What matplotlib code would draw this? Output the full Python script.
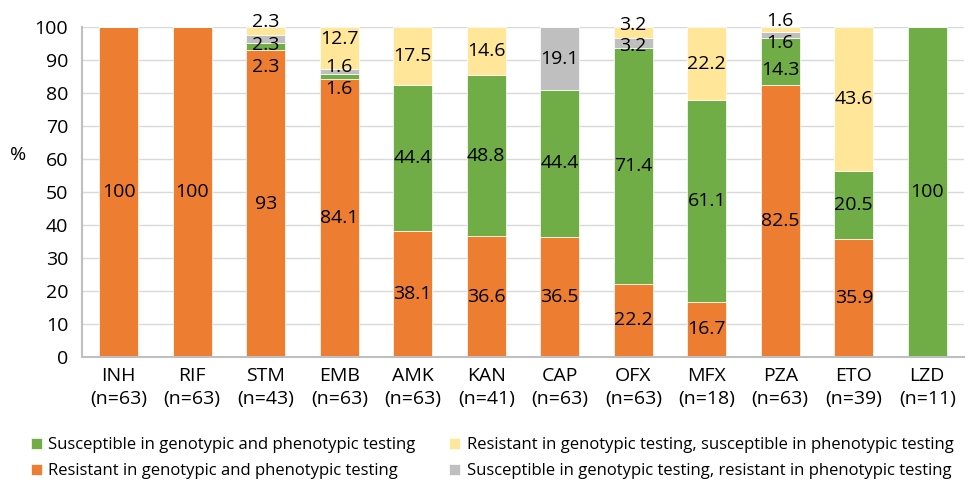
import matplotlib
matplotlib.use("Agg")
import matplotlib.pyplot as plt
import numpy as np

drugs = ["INH", "RIF", "STM", "EMB", "AMK", "KAN", "CAP", "OFX", "MFX", "PZA", "ETO", "LZD"]
n_counts = [63, 63, 43, 63, 63, 41, 63, 63, 18, 63, 39, 11]

res_both = [100, 100, 93, 84.1, 38.1, 36.6, 36.5, 22.2, 16.7, 82.5, 35.9, 0]
sus_both = [0, 0, 2.3, 1.6, 44.4, 48.8, 44.4, 71.4, 61.1, 14.3, 20.5, 100]
sus_geno_res_pheno = [0, 0, 2.3, 1.6, 0, 0, 19.1, 3.2, 0, 1.6, 0, 0]
res_geno_sus_pheno = [0, 0, 2.3, 12.7, 17.5, 14.6, 0, 3.2, 22.2, 1.6, 43.6, 0]

series = [
    ("Resistant in genotypic and phenotypic testing", res_both, "#ED7D31"),
    ("Susceptible in genotypic and phenotypic testing", sus_both, "#70AD47"),
    ("Susceptible in genotypic testing, resistant in phenotypic testing", sus_geno_res_pheno, "#BFBFBF"),
    ("Resistant in genotypic testing, susceptible in phenotypic testing", res_geno_sus_pheno, "#FFE699"),
]

# label position overrides (series index, bar index) -> y
label_y = {
    (1, 2): 88.0, (2, 2): 94.5, (3, 2): 101.5,
    (1, 3): 81.2, (2, 3): 88.0, (3, 3): 96.3,
    (2, 7): 94.2, (3, 7): 100.6,
    (1, 9): 87.0, (2, 9): 95.2, (3, 9): 101.8,
}

plt.rcParams['font.family'] = ['Open Sans', 'DejaVu Sans']

fig = plt.figure(figsize=(9.69, 4.8), dpi=100)
ax = fig.add_axes([82/969, 1-357/480, (964-82)/969, 330/480])

FS = 14
x = np.arange(len(drugs))
bottom = np.zeros(len(drugs))
handles = {}
for si, (name, vals, col) in enumerate(series):
    vals = np.array(vals, dtype=float)
    b = ax.bar(x, vals, 0.53, bottom=bottom, color=col, label=name, zorder=2,
               edgecolor='white', linewidth=0.5)
    handles[name] = b
    for i, v in enumerate(vals):
        if v > 0:
            y = label_y.get((si, i), bottom[i] + v / 2)
            ax.text(x[i], y, f"{v:g}", ha='center', va='center', fontsize=FS,
                    color='black', zorder=3, clip_on=False)
    bottom += vals

ax.set_xlim(-0.5, len(drugs) - 0.5)
ax.set_ylim(0, 100)
ax.set_yticks(range(0, 101, 10))
ax.set_xticks(x)
ax.set_xticklabels([f"{d}\n(n={n})" for d, n in zip(drugs, n_counts)], fontsize=FS, linespacing=1.35)
ax.tick_params(axis='y', labelsize=FS, length=0, pad=10)
ax.tick_params(axis='x', length=0, pad=7)
ax.yaxis.grid(True, color='#D9D9D9', linewidth=1, zorder=0)
ax.set_axisbelow(True)
for s in ['top', 'right']:
    ax.spines[s].set_visible(False)
ax.spines['left'].set_color('#BFBFBF')
ax.spines['bottom'].set_color('#BFBFBF')
ax.spines['left'].set_linewidth(1.5)
ax.spines['bottom'].set_linewidth(1.5)
ax.set_ylabel('%', rotation=0, fontsize=FS, labelpad=12)
ax.yaxis.set_label_coords(-0.072, 0.585)

order = [series[1][0], series[0][0], series[3][0], series[2][0]]
leg = fig.legend([handles[k] for k in order], order, loc='lower left',
                 bbox_to_anchor=(16/969, -0.03), ncol=2, frameon=False,
                 fontsize=12.0, handlelength=0.65, handleheight=0.65, handletextpad=0.4,
                 columnspacing=2.0, labelspacing=0.6)

fig.savefig('out.png', dpi=100)
